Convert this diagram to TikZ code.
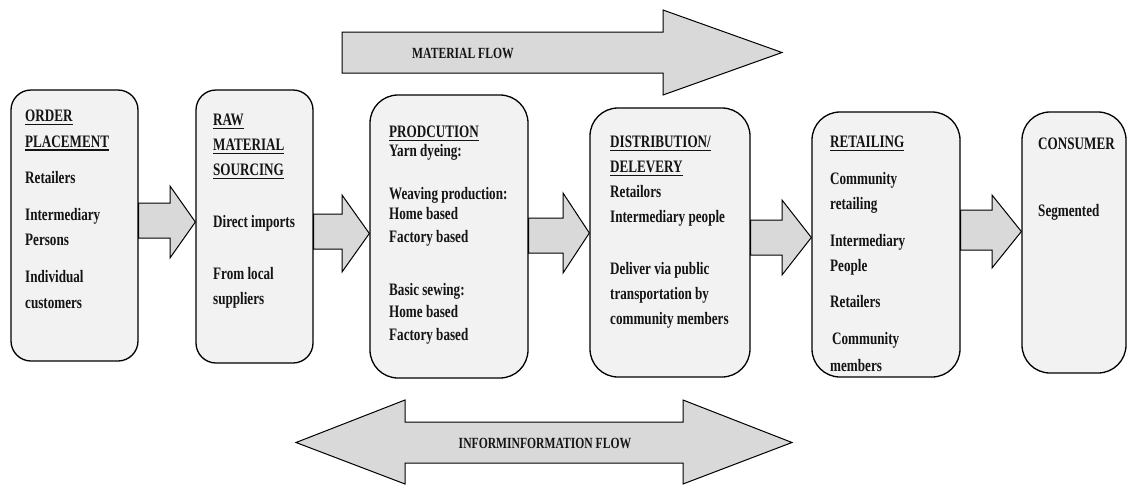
\documentclass[tikz,border=0pt]{standalone}
\usepackage{fontspec}
\setmainfont{Liberation Serif}[FakeStretch=0.75]
\usetikzlibrary{fit}
\definecolor{boxfill}{HTML}{F2F2F2}
\definecolor{arrowfill}{HTML}{D9D9D9}
\definecolor{ink}{HTML}{141414}
% heading with a rule a little below the baseline
\newcommand{\headline}[1]{\setbox0\hbox{#1}\rlap{\rule[-3.6pt]{\wd0}{1.2pt}}\box0}
\begin{document}
\begin{tikzpicture}[x=1pt,y=-1pt,
  stagebox/.style={draw=black, line width=1.3pt, fill=boxfill, rounded corners=20pt, inner sep=0pt},
  widebox/.style={stagebox, rounded corners=28pt},
  blockarrow/.style={draw=black, line width=1pt, fill=arrowfill, line join=miter},
  stagetext/.style={anchor=north west, inner sep=0pt, align=left, text=ink,
    font=\fontsize{17.5}{25}\selectfont\bfseries},
  flowlabel/.style={inner sep=0pt, text=ink, font=\fontsize{15.5}{17}\selectfont\bfseries}]
\useasboundingbox (0,0) rectangle (1128,485);

% material flow arrow (top)
\draw[blockarrow] (342,32) -- (663,32) -- (663,10) -- (782,52.5) -- (663,95) -- (663,73) -- (342,73) -- cycle;
\node[flowlabel] (matflow) at (463,53) {MATERIAL FLOW};

% information flow arrow (bottom, two heads)
\draw[blockarrow] (296,442.5) -- (405,400) -- (405,422) -- (683,422) -- (683,400) -- (792,442.5)
  -- (683,484) -- (683,463) -- (405,463) -- (405,484) -- cycle;
\node[flowlabel] (infoflow) at (545,443) {INFORMINFORMATION FLOW};

% stage boxes
\node[stagebox, fit={(11,90) (138,361)}] (b1) {};
\node[stagebox, fit={(196,90) (313,363)}] (b2) {};
\node[widebox, fit={(370,95) (528,378)}] (b3) {};
\node[widebox, fit={(590,108) (750,377)}] (b4) {};
\node[widebox, fit={(812,112) (960,377)}] (b5) {};
\node[widebox, fit={(1022,112) (1126,373)}] (b6) {};

% block arrows between the stages
\draw[blockarrow] (b1.east |- 0,203) -- (170,203) -- (170,186) -- (b2.west |- 0,222) -- (170,258) -- (170,238) -- (b1.east |- 0,238) -- cycle;
\draw[blockarrow] (b2.east |- 0,214) -- (342,214) -- (342,195) -- (b3.west |- 0,233.5) -- (342,272) -- (342,249) -- (b2.east |- 0,249) -- cycle;
\draw[blockarrow] (b3.east |- 0,218) -- (563,218) -- (563,193) -- (b4.west |- 0,233) -- (563,273) -- (563,253) -- (b3.east |- 0,253) -- cycle;
\draw[blockarrow] (b4.east |- 0,220) -- (782,220) -- (782,200) -- (b5.west |- 0,237.5) -- (782,275) -- (782,255) -- (b4.east |- 0,255) -- cycle;
\draw[blockarrow] (b5.east |- 0,210) -- (992,210) -- (992,195) -- (b6.west |- 0,231.5) -- (992,268) -- (992,250) -- (b5.east |- 0,250) -- cycle;

% stage texts
\node[stagetext] (t1) at (25,110) {\headline{ORDER}\\[0.3pt]
  \headline{PLACEMENT}\\[11.5pt]
  Retailers\\[12pt]
  Intermediary\\[0.3pt]
  Persons\\[12pt]
  Individual\\[0.3pt]
  customers};

\node[stagetext] (t2) at (213,114) {\headline{RAW}\\
  \headline{MATERIAL}\\
  \headline{SOURCING}\\[27pt]
  Direct imports\\[27pt]
  From local\\
  suppliers};

\node[stagetext, font=\fontsize{17.5}{22.5}\selectfont\bfseries] (t3) at (389,126) {\headline{PRODCUTION}\\[-3.5pt]
  Yarn dyeing:\\[20.5pt]
  Weaving production:\\[-2.5pt]
  Home based\\
  Factory based\\[30.5pt]
  Basic sewing:\\
  Home based\\
  Factory based};

\node[stagetext] (t4) at (610,136) {\headline{DISTRIBUTION/}\\
  \headline{DELEVERY}\\
  Retailors\\
  Intermediary people\\[27pt]
  Deliver via public\\
  transportation by\\
  community members};

\node[stagetext] (t5) at (830,136) {\headline{RETAILING}\\[12pt]
  Community\\
  retailing\\[12pt]
  Intermediary\\
  People\\[11pt]
  Retailers\\[12pt]
  \hspace*{2pt}Community\\[2pt]
  members};

\node[stagetext] (t6) at (1038,138) {CONSUMER\\[42pt]
  Segmented};
\end{tikzpicture}
\end{document}
